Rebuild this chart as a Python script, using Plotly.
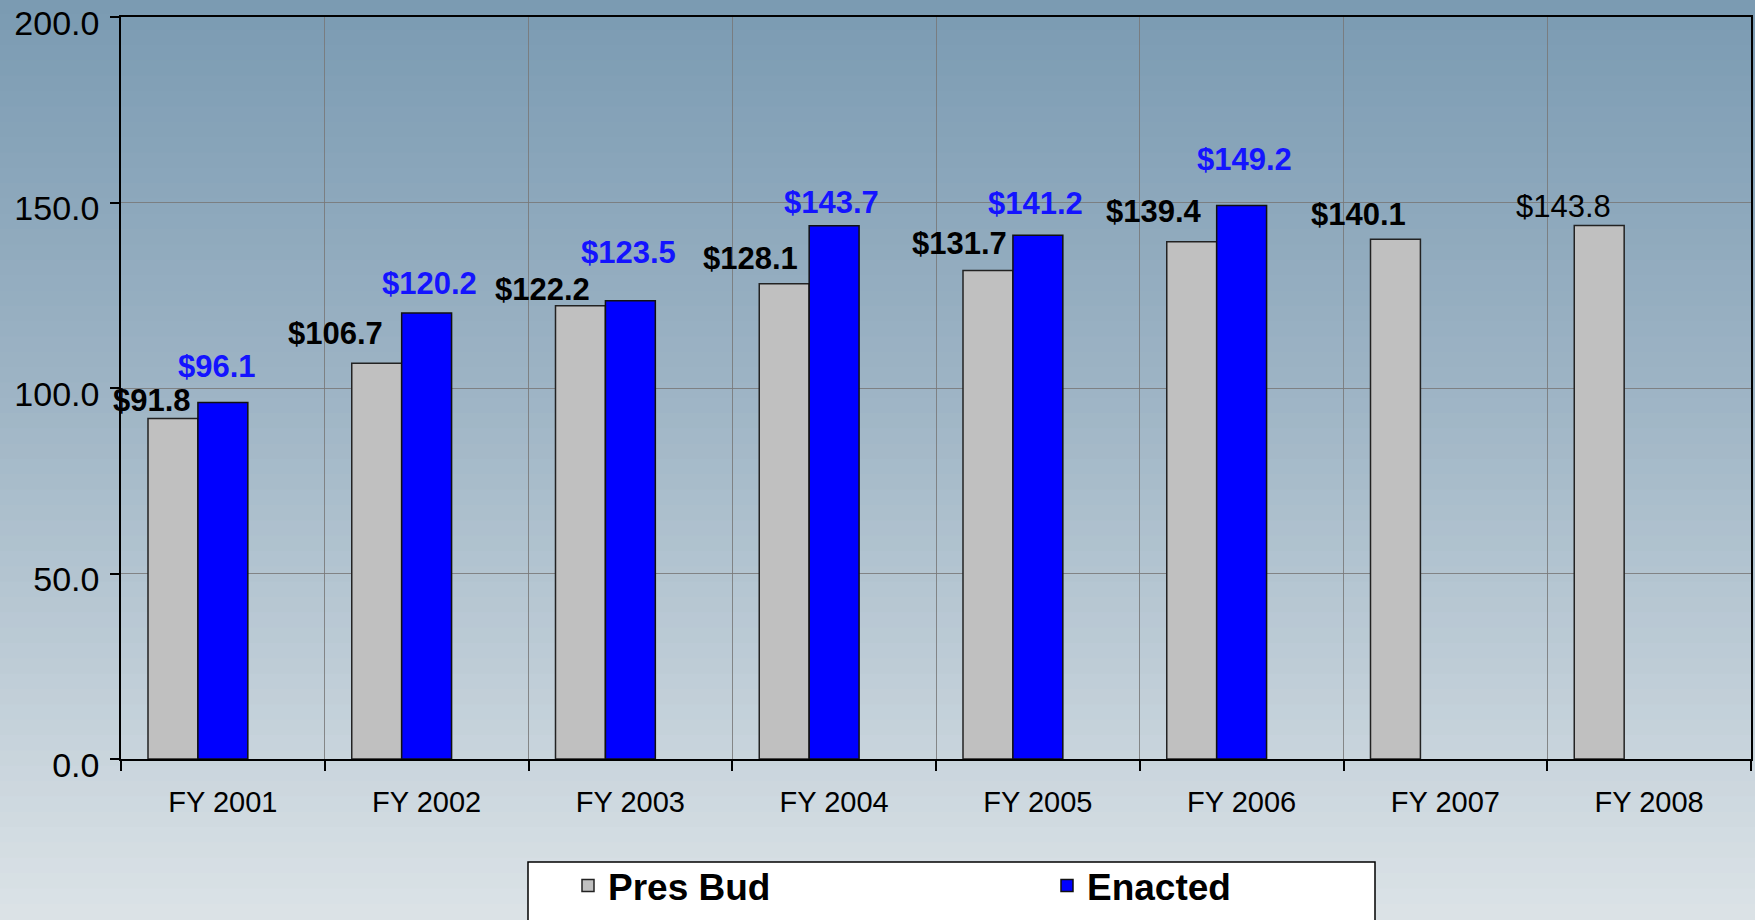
import plotly.graph_objects as go

categories = ["FY 2001", "FY 2002", "FY 2003", "FY 2004", "FY 2005", "FY 2006", "FY 2007", "FY 2008"]
pres_bud = [91.8, 106.7, 122.2, 128.1, 131.7, 139.4, 140.1, 143.8]
enacted = [96.1, 120.2, 123.5, 143.7, 141.2, 149.2, None, None]
y_ticks = [0, 50, 100, 150, 200]

# label nudges (pixels), style only
pres_dx = [-21, -41, -38, -34, -28, -38, -37, -36]
pres_dy = [18, 30, 16, 25, 27, 30, 25, 19]
enac_dx = [-6, 3, -2, -3, -2, 3]
enac_dy = [36, 30, 48, 23, 32, 46]

W, H = 1755, 920
ML, MR, MT, MB = 121, 4, 17, 161
PW, PH = W - ML - MR, H - MT - MB

FONT = "Arial, Liberation Sans, sans-serif"
BAR_W = 0.245
OFF_P = -1.5 * BAR_W
OFF_E = -0.5 * BAR_W

fig = go.Figure()
fig.add_trace(go.Bar(
    name="Pres Bud", x=categories, y=pres_bud,
    width=BAR_W, offset=OFF_P,
    marker=dict(color="#c0c0c0", line=dict(color="#222222", width=1.5)),
))
fig.add_trace(go.Bar(
    name="Enacted", x=categories, y=enacted,
    width=BAR_W, offset=OFF_E,
    marker=dict(color="#0000ff", line=dict(color="#111111", width=1.5)),
))

def px_to_py(py):
    return (H - MB - py) / PH

# background gradient strips
top = (122, 154, 178)
mid = (160, 182, 198)
bot = (220, 227, 231)
N = 60
shapes = []
for k in range(N):
    t0 = k / N
    t1 = (k + 1) / N
    tc = (t0 + t1) / 2
    if tc < 0.45:
        f = tc / 0.45
        c = [top[j] + (mid[j] - top[j]) * f for j in range(3)]
    else:
        f = (tc - 0.45) / 0.55
        c = [mid[j] + (bot[j] - mid[j]) * f for j in range(3)]
    col = "rgb(%d,%d,%d)" % tuple(int(round(v)) for v in c)
    y_hi = t0 * H - 1 if k > 0 else -80
    y_lo = t1 * H + 1 if k < N - 1 else H + 80
    shapes.append(dict(
        type="rect", xref="paper", yref="paper", layer="below",
        x0=-ML / PW - 0.02, x1=1 + MR / PW + 0.02,
        y0=px_to_py(y_lo), y1=px_to_py(y_hi),
        fillcolor=col, line=dict(width=0),
    ))

# legend box
shapes.append(dict(
    type="rect", xref="paper", yref="paper", layer="above",
    x0=(528 - ML) / PW, x1=(1375 - ML) / PW,
    y0=px_to_py(H + 20), y1=px_to_py(862),
    fillcolor="white", line=dict(color="black", width=1.5),
))

annotations = []
for i, v in enumerate(pres_bud):
    annotations.append(dict(
        x=i + OFF_P + BAR_W / 2, y=v, xref="x", yref="y",
        text=("$%.1f" % v) if i == 7 else "<b>$%.1f</b>" % v,
        showarrow=False, xanchor="center", yanchor="middle",
        xshift=pres_dx[i], yshift=pres_dy[i],
        font=dict(family=FONT, size=31, color="black"),
    ))
for i, v in enumerate(enacted):
    if v is None:
        continue
    annotations.append(dict(
        x=i + OFF_E + BAR_W / 2, y=v, xref="x", yref="y",
        text="<b>$%.1f</b>" % v,
        showarrow=False, xanchor="center", yanchor="middle",
        xshift=enac_dx[i], yshift=enac_dy[i],
        font=dict(family=FONT, size=31, color="#1414ff"),
    ))

fig.update_layout(
    width=W, height=H,
    margin=dict(l=ML, r=MR, t=MT, b=MB, autoexpand=False),
    paper_bgcolor="rgb(122,154,178)",
    plot_bgcolor="rgba(0,0,0,0)",
    barmode="overlay",
    shapes=shapes,
    annotations=annotations,
    font=dict(family=FONT, color="black"),
    showlegend=True,
    hovermode=False,
    legend=dict(
        orientation="h", x=(568 - ML) / PW, xanchor="left",
        y=px_to_py(886), yanchor="middle",
        bgcolor="rgba(0,0,0,0)", borderwidth=0,
        font=dict(family=FONT, size=37, color="black", weight="bold"),
        entrywidth=434, entrywidthmode="pixels",
        traceorder="normal",
    ),
    xaxis=dict(
        type="category", range=[-0.5, 7.5],
        tickson="boundaries", ticks="outside", ticklen=10, tickwidth=1.5, tickcolor="black",
        showline=True, linecolor="black", linewidth=1.5, mirror=True,
        showgrid=True, gridcolor="rgba(120,120,120,0.85)", gridwidth=1.2,
        tickfont=dict(family=FONT, size=29, color="black"),
        ticklabelstandoff=16, automargin=False,
    ),
    yaxis=dict(
        range=[0, 200], tickvals=y_ticks, tickformat=".1f",
        ticks="outside", ticklen=9, tickwidth=1.5, tickcolor="black",
        showline=True, linecolor="black", linewidth=1.5, mirror=True,
        showgrid=True, gridcolor="rgba(120,120,120,0.85)", gridwidth=1.2,
        zeroline=False, ticklabeloverflow="allow",
        tickfont=dict(family=FONT, size=34, color="black"),
        ticklabelstandoff=4, ticklabelshift=6, automargin=False,
    ),
)

fig.write_html(
    "out.html",
    config={"displayModeBar": False},
    post_script="document.body.style.margin='0';document.body.style.overflow='hidden';document.body.style.background='rgb(122,154,178)';",
)
